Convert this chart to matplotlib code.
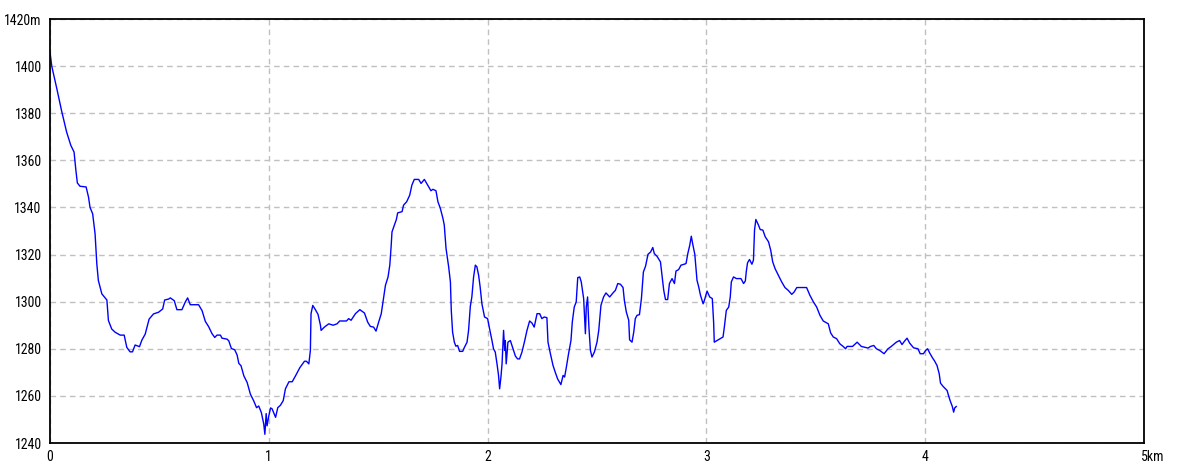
import matplotlib
matplotlib.use("Agg")
import matplotlib.pyplot as plt
import matplotlib.transforms as mtransforms
from matplotlib import font_manager

# distance (km) and elevation (m)
dist_km = [
    0.000, 0.008, 0.031, 0.053, 0.076, 0.095, 0.110, 0.118, 0.125, 0.137, 0.165, 0.176, 0.183, 0.195,
    0.206, 0.214, 0.221, 0.237, 0.260, 0.267, 0.282, 0.298, 0.321, 0.339, 0.351, 0.366, 0.377, 0.389,
    0.409, 0.420, 0.435, 0.453, 0.473, 0.496, 0.515, 0.524, 0.542, 0.550, 0.568, 0.580, 0.603, 0.618,
    0.629, 0.641, 0.679, 0.695, 0.710, 0.725, 0.740, 0.753, 0.763, 0.779, 0.786, 0.809, 0.817, 0.829,
    0.844, 0.855, 0.863, 0.873, 0.886, 0.901, 0.916, 0.931, 0.944, 0.954, 0.966, 0.977, 0.982, 0.988,
    0.992, 1.000, 1.008, 1.015, 1.031, 1.041, 1.053, 1.066, 1.076, 1.092, 1.107, 1.122, 1.142,
    1.163, 1.172, 1.183, 1.190, 1.193, 1.201, 1.213, 1.225, 1.236, 1.239, 1.254, 1.274, 1.294, 1.312,
    1.324, 1.355, 1.365, 1.376, 1.396, 1.416, 1.437, 1.452, 1.464, 1.479, 1.490, 1.502, 1.514, 1.522,
    1.533, 1.545, 1.553, 1.559, 1.563, 1.574, 1.583, 1.589, 1.609, 1.616, 1.630, 1.644, 1.654, 1.665,
    1.685, 1.696, 1.711, 1.726, 1.741, 1.750, 1.764, 1.773, 1.784, 1.796, 1.802, 1.810, 1.822, 1.830,
    1.834, 1.840, 1.848, 1.855, 1.863, 1.872, 1.886, 1.893, 1.906, 1.913, 1.921, 1.928, 1.936, 1.944,
    1.951, 1.959, 1.966, 1.974, 1.986, 2.000, 2.009, 2.020, 2.027, 2.035, 2.043, 2.050, 2.055, 2.061,
    2.066, 2.073, 2.078, 2.081, 2.085, 2.093, 2.104, 2.116, 2.127, 2.137, 2.146, 2.157, 2.168, 2.180,
    2.192, 2.203, 2.213, 2.226, 2.238, 2.248, 2.259, 2.271, 2.276, 2.287, 2.299, 2.309, 2.320, 2.335,
    2.345, 2.352, 2.360, 2.370, 2.381, 2.387, 2.396, 2.405, 2.412, 2.421, 2.428, 2.439, 2.447, 2.451,
    2.457, 2.463, 2.470, 2.477, 2.488, 2.500, 2.508, 2.518, 2.530, 2.541, 2.558, 2.573, 2.584, 2.595,
    2.607, 2.619, 2.625, 2.634, 2.645, 2.649, 2.660, 2.668, 2.675, 2.683, 2.694, 2.703, 2.712, 2.722,
    2.733, 2.745, 2.755, 2.762, 2.774, 2.790, 2.797, 2.805, 2.813, 2.823, 2.831, 2.843, 2.854, 2.861,
    2.873, 2.884, 2.899, 2.907, 2.915, 2.924, 2.931, 2.937, 2.947, 2.957, 2.965, 2.973, 2.985, 2.991,
    3.003, 3.015, 3.027, 3.033, 3.036, 3.049, 3.076, 3.082, 3.091, 3.102, 3.109, 3.114, 3.124, 3.137,
    3.158, 3.170, 3.178, 3.182, 3.188, 3.197, 3.208, 3.215, 3.220, 3.226, 3.238, 3.246, 3.258, 3.269,
    3.284, 3.294, 3.303, 3.314, 3.329, 3.344, 3.359, 3.374, 3.390, 3.401, 3.413, 3.458, 3.473, 3.489,
    3.504, 3.519, 3.534, 3.557, 3.568, 3.580, 3.595, 3.610, 3.625, 3.636, 3.643, 3.668, 3.689, 3.708,
    3.739, 3.750, 3.765, 3.777, 3.792, 3.812, 3.830, 3.845, 3.868, 3.883, 3.894, 3.906, 3.917, 3.929,
    3.947, 3.967, 3.977, 3.992, 4.002, 4.011, 4.020, 4.033, 4.043, 4.054, 4.064, 4.070, 4.082, 4.100,
    4.109, 4.115, 4.124, 4.130, 4.135, 4.142,
]
elev_m = [
    1406.0, 1400.0, 1390.5, 1381.0, 1372.0, 1366.4, 1363.5, 1356.0, 1350.4, 1349.0, 1348.7, 1344.4, 1340.0, 1337.3,
    1328.8, 1316.0, 1309.0, 1303.3, 1300.7, 1292.0, 1288.4, 1287.0, 1285.8, 1285.8, 1280.6, 1278.7, 1278.7, 1281.6,
    1280.9, 1283.7, 1286.2, 1292.6, 1294.8, 1295.5, 1296.9, 1300.7, 1301.1, 1301.6, 1300.4, 1296.6, 1296.6, 1299.8,
    1301.6, 1298.7, 1298.7, 1296.2, 1291.6, 1289.4, 1286.5, 1284.8, 1285.8, 1285.8, 1284.5, 1284.1, 1283.4, 1280.1,
    1279.6, 1277.4, 1273.8, 1272.8, 1268.5, 1265.7, 1260.7, 1257.9, 1255.0, 1255.7, 1252.9, 1248.0, 1243.7, 1252.5,
    1247.3, 1251.5, 1254.9, 1254.5, 1250.9, 1255.0, 1256.0, 1258.0, 1263.0, 1266.0, 1266.0, 1268.5, 1272.0,
    1274.7, 1274.7, 1273.6, 1279.3, 1294.9, 1298.4, 1296.6, 1294.6, 1290.0, 1287.8, 1289.2, 1290.6, 1290.0, 1290.6,
    1291.8, 1291.8, 1292.8, 1292.1, 1294.9, 1296.6, 1295.2, 1291.3, 1289.5, 1289.2, 1287.5, 1291.3, 1294.9, 1299.9,
    1306.9, 1310.5, 1315.5, 1323.3, 1329.6, 1332.5, 1334.9, 1337.7, 1338.2, 1341.0, 1342.4, 1345.2, 1349.5, 1351.9,
    1351.9, 1350.2, 1351.9, 1349.5, 1347.1, 1347.7, 1347.1, 1342.4, 1339.6, 1335.3, 1332.5, 1322.6, 1314.8, 1308.4,
    1296.3, 1287.1, 1282.8, 1281.1, 1281.4, 1278.9, 1278.9, 1280.4, 1282.8, 1287.8, 1298.0, 1302.0, 1310.5, 1315.5,
    1314.8, 1311.2, 1306.2, 1299.1, 1293.5, 1292.8, 1288.5, 1283.5, 1280.0, 1278.6, 1273.6, 1268.7, 1263.0, 1268.0,
    1273.6, 1287.8, 1279.3, 1283.5, 1273.6, 1282.8, 1283.5, 1280.0, 1276.9, 1275.7, 1275.7, 1278.6, 1282.8, 1287.8,
    1291.8, 1290.9, 1289.2, 1294.9, 1294.9, 1292.8, 1293.5, 1293.2, 1282.8, 1277.9, 1272.9, 1270.1, 1267.2, 1264.8,
    1268.7, 1268.0, 1272.2, 1277.9, 1283.5, 1291.3, 1297.7, 1299.9, 1310.2, 1310.5, 1308.4, 1301.3, 1286.4, 1297.7,
    1302.0, 1289.2, 1279.3, 1276.5, 1278.6, 1282.8, 1287.8, 1298.4, 1302.0, 1303.7, 1302.0, 1303.7, 1304.8, 1307.7,
    1307.4, 1306.0, 1300.6, 1295.6, 1292.1, 1283.8, 1282.8, 1287.1, 1292.8, 1294.2, 1294.5, 1301.3, 1312.6, 1315.1,
    1320.1, 1321.1, 1323.0, 1320.4, 1319.3, 1316.9, 1311.2, 1304.8, 1300.9, 1300.9, 1307.7, 1309.8, 1307.7, 1313.0,
    1313.6, 1315.5, 1315.9, 1316.2, 1320.4, 1324.0, 1327.8, 1324.7, 1320.1, 1309.1, 1306.2, 1302.7, 1299.1, 1300.6,
    1304.5, 1302.0, 1301.3, 1291.3, 1282.8, 1283.5, 1285.0, 1289.2, 1296.3, 1297.7, 1302.0, 1308.4, 1310.5, 1309.8,
    1309.8, 1307.7, 1308.8, 1312.6, 1316.5, 1317.9, 1315.9, 1317.6, 1330.4, 1334.9, 1332.5, 1330.6, 1330.4, 1327.5,
    1325.4, 1321.8, 1316.9, 1314.0, 1311.2, 1308.4, 1306.0, 1304.8, 1303.1, 1304.1, 1306.0, 1306.0, 1302.7, 1299.9,
    1297.7, 1294.2, 1291.8, 1290.6, 1286.7, 1285.0, 1284.3, 1282.1, 1281.0, 1280.0, 1281.0, 1281.0, 1282.8, 1281.0,
    1280.3, 1281.0, 1281.4, 1280.0, 1279.3, 1277.9, 1280.0, 1281.0, 1282.8, 1283.5, 1281.8, 1283.3, 1284.5, 1282.4,
    1280.4, 1280.0, 1277.9, 1277.9, 1279.3, 1280.0, 1278.3, 1276.2, 1274.8, 1272.9, 1269.4, 1265.4, 1264.0, 1262.3,
    1259.4, 1257.7, 1255.5, 1253.1, 1254.9, 1255.5,
]

x_ticks = [0, 1, 2, 3, 4, 5]
x_tick_labels = ["0", "1", "2", "3", "4", "5km"]
y_ticks = [1240, 1260, 1280, 1300, 1320, 1340, 1360, 1380, 1400, 1420]
y_tick_labels = ["1240", "1260", "1280", "1300", "1320", "1340", "1360", "1380", "1400", "1420m"]

# pick a narrow font if available
names = {f.name for f in font_manager.fontManager.ttflist}
tick_family, tick_size = "DejaVu Sans", 8.5
for cand, size in [("Roboto Condensed", 10), ("DejaVu Sans Condensed", 9),
                   ("Liberation Sans Narrow", 10)]:
    if cand in names:
        tick_family, tick_size = cand, size
        break

W, H = 1184, 473
fig = plt.figure(figsize=(W / 100, H / 100), dpi=100)
fig.patch.set_facecolor("white")
ax = fig.add_axes([50 / W, 1 - 443 / H, (1144 - 50) / W, (443 - 19) / H])

ax.plot(dist_km, elev_m, color="#0000ff", linewidth=1.0)

ax.set_xlim(0, 5)
ax.set_ylim(1240, 1420)
ax.set_xticks(x_ticks)
ax.set_xticklabels(x_tick_labels)
ax.set_yticks(y_ticks)
ax.set_yticklabels(y_tick_labels)

ax.grid(True, color="#c0c0c0", linestyle=(0, (4, 3)), linewidth=1.0)
ax.set_axisbelow(True)
for s in ax.spines.values():
    s.set_color("black")
    s.set_linewidth(1.3)

ax.tick_params(axis="both", length=0, labelsize=tick_size, labelcolor="black")
ax.tick_params(axis="y", pad=6)
ax.tick_params(axis="x", pad=5)
for lbl in ax.get_xticklabels() + ax.get_yticklabels():
    lbl.set_fontfamily(tick_family)

# last x label starts at its tick
last = ax.get_xticklabels()[-1]
last.set_horizontalalignment("left")
last.set_transform(last.get_transform() + mtransforms.ScaledTranslation(-3 / 100, 0, fig.dpi_scale_trans))

fig.savefig("out.png", dpi=100, facecolor="white")
